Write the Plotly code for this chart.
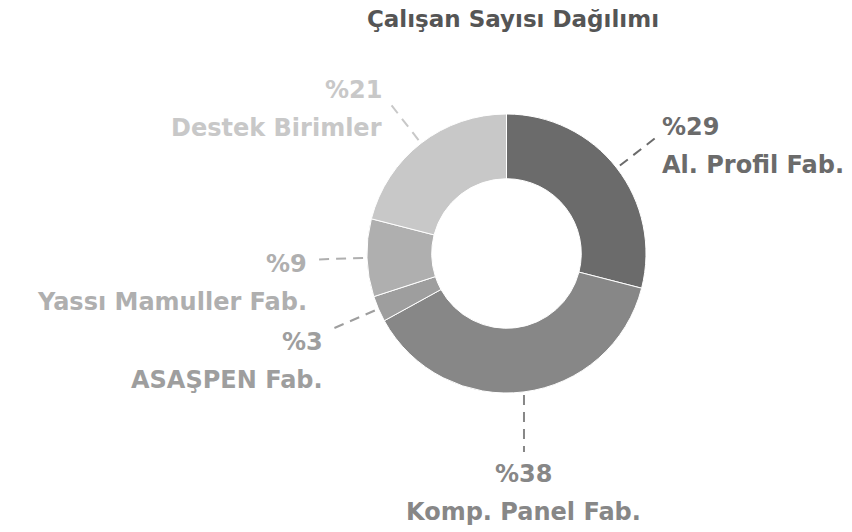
import math
import plotly.graph_objects as go

# ---- data ----
categories = ["Al. Profil Fab.", "Komp. Panel Fab.", "ASAŞPEN Fab.", "Yassı Mamuller Fab.", "Destek Birimler"]
values = [29, 38, 3, 9, 21]
colors = ["#6b6b6b", "#878787", "#9e9e9e", "#afafaf", "#c8c8c8"]
title_text = "Çalışan Sayısı Dağılımı"

# ---- layout constants (window pixels) ----
W, H = 852, 532
CX, CY, R = 506.5, 253.5, 139.5
FONT = "DejaVu Sans"

def px(x):
    return x / W

def py(y):
    return 1 - y / H

fig = go.Figure()
fig.add_trace(go.Pie(
    labels=categories,
    values=values,
    sort=False,
    direction="clockwise",
    rotation=0,
    hole=0.536,
    marker=dict(colors=colors, line=dict(color="white", width=1)),
    textinfo="none",
    hoverinfo="label+percent",
    showlegend=False,
    domain=dict(x=[px(CX - R), px(CX + R)], y=[py(CY + R), py(CY - R)]),
))

shapes = []
annotations = []
total = sum(values)
cum = 0
for name, v, col in zip(categories, values, colors):
    mid = (cum + v / 2) / total * 2 * math.pi
    cum += v
    s, c = math.sin(mid), math.cos(mid)
    if abs(s) < 0.3:
        # near top/bottom: vertical leader
        sgn = 1 if c > 0 else -1
        x1 = x2 = CX + R * s
        y1 = CY - sgn * (math.sqrt(R * R - (R * s) ** 2) + 3)
        y2 = y1 - sgn * 57
    else:
        x1, y1 = CX + (R + 4) * s, CY - (R + 4) * c
        x2, y2 = CX + (R + 55) * s, CY - (R + 55) * c
    shapes.append(dict(type="line", xref="paper", yref="paper",
                       x0=px(x1), y0=py(y1), x1=px(x2), y1=py(y2),
                       line=dict(color=col, width=2, dash="10px,7px")))
    if s > 0.3:
        xa, tx = "left", x2 + 0
    elif s < -0.3:
        xa, tx = "right", x2 - 3
    else:
        xa, tx = "center", x2
    pct_y = y2 - 18 * c + 4
    name_y = pct_y + 38
    pct = round(v / total * 100)
    annotations.append(dict(xref="paper", yref="paper", x=px(tx), y=py(pct_y),
                            xanchor=xa, yanchor="middle", showarrow=False,
                            text=f"%{pct}",
                            font=dict(family=FONT, size=24, color=col, weight=700)))
    annotations.append(dict(xref="paper", yref="paper", x=px(tx), y=py(name_y),
                            xanchor=xa, yanchor="middle", showarrow=False,
                            text=name,
                            font=dict(family=FONT, size=24, color=col, weight=700)))

fig.update_layout(
    width=W, height=H, autosize=False,
    margin=dict(l=0, r=0, t=0, b=0),
    paper_bgcolor="white", plot_bgcolor="white",
    title=dict(text=title_text, x=px(513), xanchor="center",
               y=py(19), yanchor="middle",
               font=dict(family=FONT, size=23, color="#555555", weight=700)),
    shapes=shapes,
    annotations=annotations,
)

fig.write_html("out.html",
               config={"displayModeBar": False},
               post_script="document.body.style.margin='0';document.body.style.overflow='hidden';")
